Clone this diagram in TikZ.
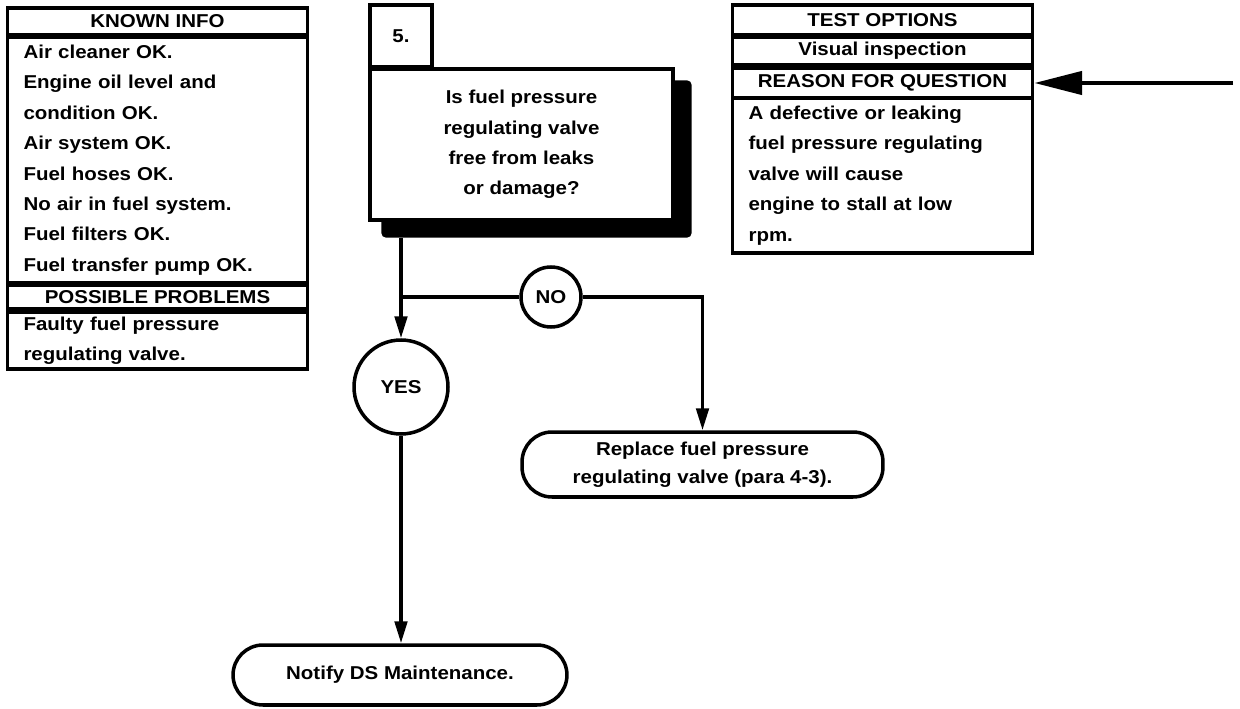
\documentclass[tikz,border=0pt]{standalone}
\usepackage{fontspec}
\setmainfont{Liberation Sans}[FakeStretch=1.1]
\usetikzlibrary{positioning,arrows.meta,shapes.geometric}

\begin{document}
\begin{tikzpicture}[
  x=0.02cm, y=-0.02cm,
  every node/.style={font=\bfseries\fontsize{10.6}{17.3}\selectfont},
  box/.style  ={draw, line width=2pt, inner sep=0pt, align=center},
  hdr/.style  ={box, minimum width=6cm},
  body/.style ={box, text width=5.36cm, inner xsep=0.32cm, align=left},
  term/.style ={box, rounded corners=0.6cm},
  ring/.style ={box, circle},
  arr/.style  ={-{Triangle[length=0.44cm, width=0.25cm]}, line width=2pt},
  big/.style  ={-{Triangle[length=0.96cm, width=0.46cm]}, line width=2.6pt}
]
\useasboundingbox (0,0) rectangle (1240,709);

%% ---- Known info --------------------------------------------------
\node[hdr, minimum height=0.54cm] (known) at (157.5,21.5) {KNOWN INFO};
\node[body, minimum height=4.92cm] (knownbody) at (157.5,160)
     {Air cleaner OK.\\
      Engine oil level and\\
      condition OK.\\
      Air system OK.\\
      Fuel hoses OK.\\
      No air in fuel system.\\
      Fuel filters OK.\\
      Fuel transfer pump OK.};
\node[hdr, minimum height=0.48cm] (probhdr) at (157.5,297) {POSSIBLE PROBLEMS};
\node[body, minimum height=1.14cm] (probbody) at (157.5,340.5)
     {Faulty fuel pressure\\
      regulating valve.};

%% ---- Question ----------------------------------------------------
\node[box, fill=black, rounded corners=2pt, minimum width=6.14cm,
      minimum height=3.08cm] (qshadow) at (536.5,159) {};
\node[box, fill=white, minimum width=6.06cm, minimum height=3.02cm]
     (question) at (521.5,144.5)
     {Is fuel pressure\\
      regulating valve\\
      free from leaks\\
      or damage?};
\node[box, fill=white, minimum size=1.24cm] (stepno) at (401,36)
     {\raisebox{-0.1cm}{5.}};

%% ---- Test options ------------------------------------------------
\node[hdr, minimum height=0.6cm]  (testhdr)   at (882.5,20) {TEST OPTIONS};
\node[hdr, minimum height=0.56cm] (visual)    at (882.5,51) {Visual inspection};
\node[hdr, minimum height=0.6cm]  (reasonhdr) at (882.5,83) {REASON FOR QUESTION};
\node[body, minimum height=3.1cm] (reasonbody) at (882.5,175.5)
     {A defective or leaking\\
      fuel pressure regulating\\
      valve will cause\\
      engine to stall at low\\
      rpm.};
\coordinate (pointer) at (1233,83);
\draw[big] (pointer) -- (reasonhdr.east);

%% ---- Answers -----------------------------------------------------
\node[ring, minimum size=1.88cm] (yes) at (401,387) {YES};
\node[ring, minimum size=1.2cm]  (no)  at (551,297) {NO};

\node[term, minimum width=7.22cm, minimum height=1.3cm,
      font=\bfseries\fontsize{10.6}{16}\selectfont]
     (replace) at (702.5,464.5)
     {Replace fuel pressure\\
      regulating valve (para 4-3).};
\node[term, minimum width=6.68cm, minimum height=1.2cm]
     (notify) at (400,675) {Notify DS Maintenance.};

%% ---- Flow arrows -------------------------------------------------
\coordinate (split) at (yes |- no);
\draw[line width=2pt] (yes |- qshadow.south) -- (split);
\draw[arr] (split) -- (yes);
\draw[line width=2pt] (split) -- (no);
\draw[arr] (no) -| (replace);
\draw[arr] (yes) -- (yes |- notify.north);

\end{tikzpicture}
\end{document}
